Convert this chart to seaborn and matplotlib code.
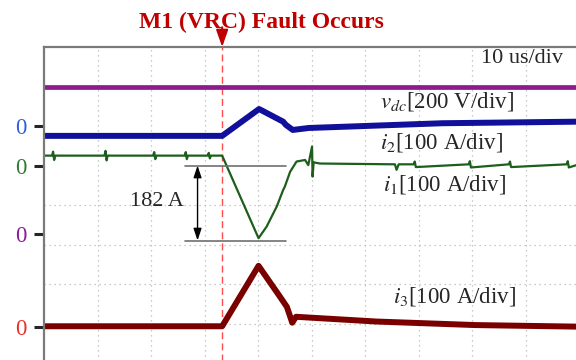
import matplotlib
matplotlib.use("Agg")
import matplotlib.pyplot as plt
import seaborn as sns
import pandas as pd

# time axis in us (10 us/div), vertical axis in scope divisions
fault_t = 33.3

vdc_t = [0, 100]
vdc_y = [7.0, 7.0]

i2_t = [0, 33.3, 40.2, 44.7, 45.2, 46.5, 49.5, 55.8, 74.5, 100]
i2_y = [5.75, 5.75, 6.43, 6.11, 6.03, 5.90, 5.95, 5.98, 6.07, 6.11]

i1_t = [0, 1.5, 1.7, 1.9, 2.1, 11.3, 11.5, 11.7, 11.9, 20.4, 20.6, 20.8, 21.0,
        26.3, 26.5, 26.7, 26.9, 30.6, 30.8, 31.0, 31.2, 33.3, 40.1, 41.6, 43.5,
        44.7, 45.0, 46.0, 47.2, 48.8, 49.4, 50.1, 50.2, 50.4, 51.6, 65.6, 65.9,
        66.3, 69.1, 69.3, 69.5, 79.4, 79.6, 79.8, 86.9, 87.1, 87.3, 97.7, 97.9,
        98.1, 100]
i1_y = [5.25, 5.25, 5.35, 5.14, 5.25, 5.25, 5.37, 5.13, 5.25, 5.25, 5.34, 5.16, 5.25,
        5.25, 5.34, 5.16, 5.25, 5.25, 5.32, 5.18, 5.25, 5.25, 3.16, 3.45, 3.96,
        4.38, 4.46, 4.84, 5.10, 5.14, 5.01, 5.48, 4.72, 5.08, 5.05, 5.03, 4.89,
        5.03, 5.03, 5.10, 4.96, 5.03, 5.11, 4.95, 5.03, 5.10, 4.96, 5.03, 5.11,
        4.95, 5.03]

i3_t = [0, 33.3, 40.1, 44.1, 45.4, 46.4, 47.1, 62.1, 80.7, 100]
i3_y = [0.93, 0.93, 2.46, 1.68, 1.42, 1.02, 1.17, 1.05, 0.96, 0.92]

zero_levels = [0.92, 3.26, 5.0, 6.0]
zero_colors = ["#e8302a", "#8a1a9a", "#2e7d2e", "#2f5fdc"]

meas_top, meas_bot = 5.0, 3.10
meas_x0, meas_x1, meas_arrow_x = 26.4, 45.3, 28.7

sns.set_theme(style="white")
plt.rcParams["font.family"] = ["Liberation Serif", "DejaVu Serif"]
plt.rcParams["mathtext.fontset"] = "stix"

fig = plt.figure(figsize=(5.76, 3.6), dpi=100)
ax = fig.add_axes([44 / 576, -3 / 360, 535 / 576, 316 / 360])

traces = [
    (vdc_t, vdc_y, "#8e1b8e", 3.4),
    (i2_t, i2_y, "#10109a", 4.3),
    (i3_t, i3_y, "#7a0000", 4.3),
    (i1_t, i1_y, "#1d5e1d", 1.6),
]
for t, y, c, lw in traces:
    df = pd.DataFrame({"t": t, "y": y})
    sns.lineplot(data=df, x="t", y="y", color=c, lw=lw, sort=False,
                 estimator=None, ax=ax)

ax.set_xlim(0, 100)
ax.set_ylim(0, 8)
ax.set_xlabel("")
ax.set_ylabel("")

# scope grid on minor ticks
ax.set_xticks([])
ax.set_xticks(range(10, 100, 10), minor=True)
ax.set_yticks(range(1, 8), minor=True)
ax.grid(which="minor", linestyle=(0, (1, 3)), color="#b8b8b8", lw=0.9)
ax.tick_params(which="minor", length=0)

# channel zero markers
ax.set_yticks(zero_levels)
ax.set_yticklabels(["0"] * len(zero_levels))
ax.tick_params(axis="y", which="major", direction="out", length=7.5, width=2.2,
               pad=5, labelsize=16.5, left=True)
for lab, tk, c in zip(ax.get_yticklabels(), ax.yaxis.get_major_ticks(), zero_colors):
    lab.set_color(c)
    tk.tick1line.set_color(c)

for side in ["right", "bottom"]:
    ax.spines[side].set_visible(False)
for side in ["left", "top"]:
    ax.spines[side].set_color("#7a7a7a")
    ax.spines[side].set_linewidth(1.6)

# fault instant
ax.axvline(fault_t, color="#ff4c4c", lw=1.0, ls=(0, (5, 3)), zorder=1)
ax.text(40.6, 8.63, "M1 (VRC) Fault Occurs", color="#c00000", fontsize=17,
        fontweight="bold", ha="center", va="center", clip_on=False)
ax.annotate("", xy=(fault_t, 8.0), xytext=(fault_t, 8.5),
            arrowprops=dict(arrowstyle="-|>,head_length=0.85,head_width=0.3",
                            color="#c00000", lw=1.5, shrinkA=0, shrinkB=0),
            annotation_clip=False)

# 182 A measurement
ax.plot([meas_x0, meas_x1], [meas_top, meas_top], color="#707070", lw=1.2)
ax.plot([meas_x0, meas_x1], [meas_bot, meas_bot], color="#707070", lw=1.2)
ax.annotate("", xy=(meas_arrow_x, meas_bot), xytext=(meas_arrow_x, meas_top),
            arrowprops=dict(arrowstyle="<|-|>,head_length=0.6,head_width=0.2",
                            color="black", lw=1.0, shrinkA=0, shrinkB=0))
ax.text(21.2, 4.10, "182 A", fontsize=16, ha="center", va="center")

# channel labels
ax.text(97.0, 7.72, "10 us/div", fontsize=16, ha="right", va="center")
ax.text(62.8, 6.62, r"$v_{dc}$[200 V/div]", fontsize=16.5, ha="left", va="center")
ax.text(62.8, 5.57, r"$i_2$[100 A/div]", fontsize=16.5, ha="left", va="center")
ax.text(63.4, 4.51, r"$i_1$[100 A/div]", fontsize=16.5, ha="left", va="center")
ax.text(65.2, 1.68, r"$i_3$[100 A/div]", fontsize=16.5, ha="left", va="center")

fig.savefig("out.png", dpi=100)
